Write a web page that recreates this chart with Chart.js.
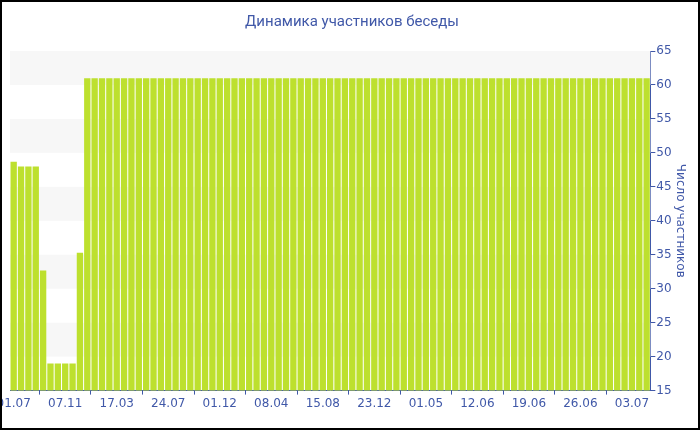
<!DOCTYPE html>
<html>
<head>
<meta charset="utf-8">
<script src="https://cdn.jsdelivr.net/npm/chart.js@4"></script>
<style>
  body { margin: 0; background: #fff; }
  #box { position: relative; width: 700px; height: 430px; }
  #frame { position: absolute; left: 0; top: 0; width: 700px; height: 430px; box-sizing: border-box; border: 2px solid #000; pointer-events: none; }
</style>
</head>
<body>
<div id="box">
  <canvas id="g1" width="700" height="430"></canvas>
  <div id="frame"></div>
</div>
<script>
// число участников по дням (87 столбцов)
var uchastniki = [48.7, 48, 48, 48, 32.7, 19, 19, 19, 19, 35.3,
    61, 61, 61, 61, 61, 61, 61, 61, 61, 61,
    61, 61, 61, 61, 61, 61, 61, 61, 61, 61,
    61, 61, 61, 61, 61, 61, 61, 61, 61, 61,
    61, 61, 61, 61, 61, 61, 61, 61, 61, 61,
    61, 61, 61, 61, 61, 61, 61, 61, 61, 61,
    61, 61, 61, 61, 61, 61, 61, 61, 61, 61,
    61, 61, 61, 61, 61, 61, 61, 61, 61, 61,
    61, 61, 61, 61, 61, 61, 61];

// подписи оси X, каждая 7-я категория
var podpisi = ['01.07', '07.11', '17.03', '24.07', '01.12', '08.04', '15.08',
    '23.12', '01.05', '12.06', '19.06', '26.06', '03.07'];
var shag = 7;

// полосы фона
var polosy = [[60, 65], [50, 55], [40, 45], [30, 35], [20, 25]];

var kategorii = uchastniki.map(function(e, i) {
    return i;
});

var sinij = '#4058a8';
var shrift = "'DejaVu Sans', Verdana, sans-serif";

var fonPolosy = {
    id: 'fonPolosy',
    beforeDatasetsDraw: function(chart) {
        var ctx = chart.ctx, a = chart.chartArea, y = chart.scales.y;
        ctx.save();
        ctx.fillStyle = '#f7f7f7';
        polosy.forEach(function(p) {
            var y1 = y.getPixelForValue(p[1]), y0 = y.getPixelForValue(p[0]);
            ctx.fillRect(a.left, y1, a.right - a.left, y0 - y1);
        });
        ctx.restore();
    }
};

var ctx_1 = document.getElementById('g1');

var myChart = new Chart(ctx_1, {
    type: 'bar',
    data: {
        labels: kategorii,
        datasets: [{
            label: 'Число участников',
            data: uchastniki,
            backgroundColor: '#bde02e',
            borderWidth: 0,
            barPercentage: 0.86,
            categoryPercentage: 1
        }]
    },
    plugins: [fonPolosy],
    options: {
        responsive: false,
        animation: false,
        layout: {
            padding: {left: 10, right: 6, top: 0, bottom: 17}
        },
        plugins: {
            legend: { display: false },
            tooltip: { enabled: false },
            title: {
                display: true,
                text: 'Динамика участников беседы',
                color: sinij,
                font: { family: 'Roboto', size: 15, weight: 'normal' },
                padding: {top: 13, bottom: 20}
            }
        },
        scales: {
            x: {
                // первая подпись обрезается краем, как в оригинале
                afterFit: function(s) { s.paddingLeft = 0; },
                grid: { display: true, drawOnChartArea: false, color: sinij, tickLength: 4 },
                border: { color: sinij },
                ticks: {
                    autoSkip: false,
                    maxRotation: 0,
                    color: sinij,
                    font: { family: shrift, size: 12 },
                    padding: 2,
                    callback: function(v, i) {
                        if (i % shag !== 0) return null;
                        return podpisi[i / shag];
                    }
                }
            },
            y: {
                position: 'right',
                min: 15,
                max: 65,
                grid: { display: true, drawOnChartArea: false, color: sinij, tickLength: 5 },
                border: { color: sinij },
                ticks: {
                    stepSize: 2.5,
                    color: sinij,
                    font: { family: shrift, size: 12 },
                    padding: 1,
                    callback: function(v) {
                        return v % 5 === 0 ? v : '';
                    }
                },
                title: {
                    display: true,
                    text: 'Число участников',
                    color: sinij,
                    font: { family: shrift, size: 12 },
                    padding: {top: 7, bottom: 0}
                }
            }
        }
    }
});
</script>
</body>
</html>
